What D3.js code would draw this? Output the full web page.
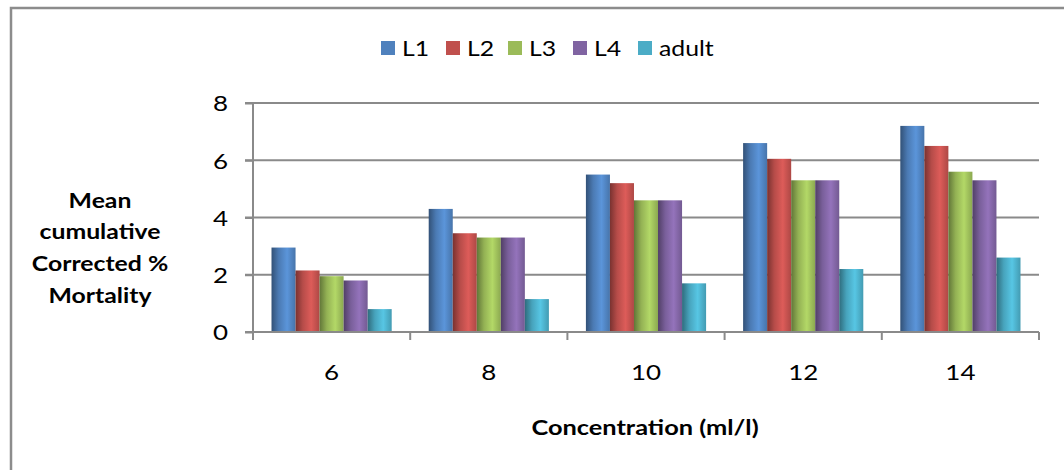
<!DOCTYPE html>
<html>
<head>
<meta charset="utf-8">
<script src="https://cdn.jsdelivr.net/npm/d3@7/dist/d3.min.js"></script>
<style>
  body { margin: 0; background: #fff; }
  svg text { font-family: Lato, "Open Sans", "Liberation Sans", sans-serif; fill: #000; }
</style>
</head>
<body>
<svg id="chart" width="1064" height="470"></svg>
<script>
var concentrations = ['6', '8', '10', '12', '14'];
var seriesNames = ['L1', 'L2', 'L3', 'L4', 'adult'];
var seriesColors = ['#4F81BD', '#C0504D', '#9BBB59', '#8064A2', '#4BACC6'];

var L1 = [2.95, 4.3, 5.5, 6.6, 7.2];
var L2 = [2.15, 3.45, 5.2, 6.05, 6.5];
var L3 = [1.95, 3.3, 4.6, 5.3, 5.6];
var L4 = [1.8, 3.3, 4.6, 5.3, 5.3];
var adult = [0.8, 1.15, 1.7, 2.2, 2.6];
var yTicks = [0, 2, 4, 6, 8];
var yTitle = ['Mean', 'cumulative', 'Corrected %', 'Mortality'];
var xTitle = 'Concentration (ml/l)';

var seriesValues = [L1, L2, L3, L4, adult];

// the original text is wider than Lato at the same height
var sx = 1.18;

var svg = d3.select('#chart');

// outer frame
svg.append('rect')
  .attr('x', 11)
  .attr('y', 8)
  .attr('width', 1080)
  .attr('height', 500)
  .attr('fill', '#fff')
  .attr('stroke', '#8c8c8c')
  .attr('stroke-width', 2.5);

var plot = {left: 253, right: 1039, top: 103, bottom: 332};

var x0 = d3.scaleBand()
  .domain(concentrations)
  .range([plot.left, plot.right]);

var x1 = d3.scaleBand()
  .domain(seriesNames)
  .range([0, x0.bandwidth()])
  .paddingOuter(0.77)
  .paddingInner(0);

var y = d3.scaleLinear()
  .domain([0, 8])
  .range([plot.bottom, plot.top]);

function stretched(sel, x, yPos) {
  return sel.attr('transform', function(d, i) {
    var tx = typeof x === 'function' ? x(d, i) : x;
    var ty = typeof yPos === 'function' ? yPos(d, i) : yPos;
    return 'translate(' + tx + ',' + ty + ') scale(' + sx + ',1)';
  });
}

// bar gradients
var defs = svg.append('defs');
seriesColors.forEach(function(c, i) {
  var base = d3.color(c);
  var g = defs.append('linearGradient')
    .attr('id', 'grad' + i)
    .attr('x1', '0%').attr('x2', '100%')
    .attr('y1', '0%').attr('y2', '0%');
  g.append('stop').attr('offset', '0%').attr('stop-color', base.darker(1.3));
  g.append('stop').attr('offset', '30%').attr('stop-color', base.darker(0.15));
  g.append('stop').attr('offset', '65%').attr('stop-color', base.brighter(0.4));
  g.append('stop').attr('offset', '100%').attr('stop-color', base.darker(0.3));
});

// gridlines
svg.append('g')
  .selectAll('line')
  .data(yTicks.slice(1))
  .enter()
  .append('line')
    .attr('x1', plot.left - 8)
    .attr('x2', plot.right)
    .attr('y1', function(d) { return y(d); })
    .attr('y2', function(d) { return y(d); })
    .attr('stroke', '#8a8a8a')
    .attr('stroke-width', 2);

// y axis
var yAxis = svg.append('g')
  .attr('transform', 'translate(' + plot.left + ',0)')
  .call(d3.axisLeft(y).tickValues(yTicks).tickSize(8));

yAxis.select('.domain')
  .attr('stroke', '#8a8a8a')
  .attr('stroke-width', 2)
  .attr('d', 'M0,' + plot.top + 'V' + (plot.bottom + 8));
yAxis.selectAll('.tick line').attr('stroke', '#8a8a8a').attr('stroke-width', 2);
yAxis.selectAll('.tick text')
  .attr('x', -25 / sx)
  .attr('dy', '0.36em')
  .attr('transform', 'scale(' + sx + ',1)')
  .style('font-size', '22px')
  .attr('fill', '#000');

// bars
var groups = svg.append('g')
  .selectAll('g')
  .data(concentrations)
  .enter()
  .append('g')
    .attr('transform', function(d) { return 'translate(' + x0(d) + ',0)'; });

groups.selectAll('rect')
  .data(function(d, gi) {
    return seriesNames.map(function(name, si) {
      return {name: name, si: si, value: seriesValues[si][gi]};
    });
  })
  .enter()
  .append('rect')
    .attr('x', function(d) { return x1(d.name); })
    .attr('width', x1.bandwidth())
    .attr('y', function(d) { return y(d.value); })
    .attr('height', function(d) { return y(0) - y(d.value); })
    .attr('fill', function(d) { return 'url(#grad' + d.si + ')'; });

// x axis
var xAxis = svg.append('g')
  .attr('transform', 'translate(0,' + plot.bottom + ')');

xAxis.append('line')
  .attr('x1', plot.left - 8)
  .attr('x2', plot.right)
  .attr('stroke', '#8a8a8a')
  .attr('stroke-width', 2);

xAxis.selectAll('.xtick')
  .data(concentrations.concat(['end']))
  .enter()
  .append('line')
    .attr('class', 'xtick')
    .attr('x1', function(d, i) { return plot.left + i * x0.bandwidth(); })
    .attr('x2', function(d, i) { return plot.left + i * x0.bandwidth(); })
    .attr('y1', 0)
    .attr('y2', 8)
    .attr('stroke', '#8a8a8a')
    .attr('stroke-width', 2);

xAxis.selectAll('.xlabel')
  .data(concentrations)
  .enter()
  .append('text')
    .attr('class', 'xlabel')
    .call(stretched, function(d) { return x0(d) + x0.bandwidth() / 2; }, 40)
    .attr('dy', '0.36em')
    .attr('text-anchor', 'middle')
    .style('font-size', '22px')
    .text(function(d) { return d; });

// axis titles
svg.append('text')
  .call(stretched, 645, 427)
  .attr('dy', '0.36em')
  .attr('text-anchor', 'middle')
  .style('font-size', '21.5px')
  .style('font-weight', 'bold')
  .text(xTitle);

svg.append('g')
  .selectAll('text')
  .data(yTitle)
  .enter()
  .append('text')
    .call(stretched, 100, function(d, i) { return 200 + i * 31.7; })
    .attr('dy', '0.36em')
    .attr('text-anchor', 'middle')
    .style('font-size', '21px')
    .style('font-weight', 'bold')
    .text(function(d) { return d; });

// legend
var legendX = [381, 446, 508, 573, 638];
var legend = svg.append('g')
  .selectAll('g')
  .data(seriesNames)
  .enter()
  .append('g')
    .attr('transform', function(d, i) { return 'translate(' + legendX[i] + ',41)'; });

legend.append('rect')
  .attr('width', 14)
  .attr('height', 14)
  .attr('fill', function(d, i) { return seriesColors[i]; });

legend.append('text')
  .call(stretched, 21, 7)
  .attr('dy', '0.36em')
  .style('font-size', '21px')
  .text(function(d) { return d; });
</script>
</body>
</html>
